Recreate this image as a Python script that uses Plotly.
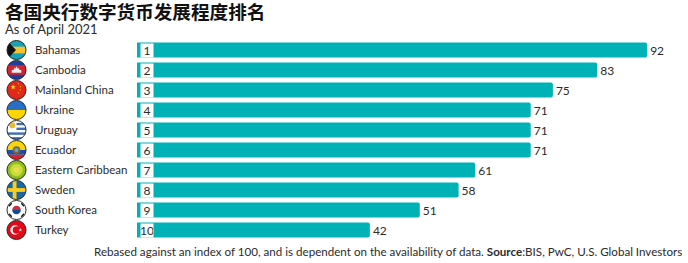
import base64
import plotly.graph_objects as go

countries = ["Bahamas", "Cambodia", "Mainland China", "Ukraine", "Uruguay", "Ecuador",
             "Eastern Caribbean", "Sweden", "South Korea", "Turkey"]
scores = [92, 83, 75, 71, 71, 71, 61, 58, 51, 42]
ranks = ["1", "2", "3", "4", "5", "6", "7", "8", "9", "10"]
title_text = "各国央行数字货币发展程度排名"
subtitle_text = "As of April 2021"
footer_text = ("Rebased against an index of 100, and is dependent on the availability of data. "
               "<b>Source</b>:BIS, PwC, U.S. Global Investors")

W, H = 688, 263
L, R, T, B = 137, 0, 40, 23
PW = W - L - R
PH = H - T - B
PX_PER_UNIT = 5.545
FONT = "Lato"
INK = "#2b2b2b"


def px(x):
    return (x - L) / PW


def py(y):
    return 1 - (y - T) / PH


star5 = "M0,-1 L.24,-.31 .95,-.31 .38,.12 .59,.81 0,.4 -.59,.81 -.38,.12 -.95,-.31 -.24,-.31Z"
flag_art = {
    "Bahamas": '<rect width="40" height="40" fill="#f4c430"/><rect width="40" height="13" fill="#17a2b8"/>'
               '<rect y="27" width="40" height="13" fill="#17a2b8"/><path d="M0,0 L19,20 L0,40Z" fill="#111"/>',
    "Cambodia": '<rect width="40" height="40" fill="#1f3f9e"/><rect y="10" width="40" height="20" fill="#d8232f"/>'
                '<path d="M10,26 L10,20 L14,20 L15,15 L17,18 L20,12 L23,18 L25,15 L26,20 L30,20 L30,26Z" fill="#eee"/>',
    "Mainland China": f'<rect width="40" height="40" fill="#e0281c"/>'
                      f'<path transform="translate(13,14) scale(6)" d="{star5}" fill="#ffd91a"/>'
                      f'<path transform="translate(24,7) scale(2)" d="{star5}" fill="#ffd91a"/>'
                      f'<path transform="translate(28,13) scale(2)" d="{star5}" fill="#ffd91a"/>'
                      f'<path transform="translate(28,20) scale(2)" d="{star5}" fill="#ffd91a"/>'
                      f'<path transform="translate(24,26) scale(2)" d="{star5}" fill="#ffd91a"/>',
    "Ukraine": '<rect width="40" height="20" fill="#2a6fc4"/><rect y="20" width="40" height="20" fill="#ffd500"/>',
    "Uruguay": '<rect width="40" height="40" fill="#fff"/><rect y="5" width="40" height="5" fill="#3a6db5"/>'
               '<rect y="15" width="40" height="5" fill="#3a6db5"/><rect y="25" width="40" height="5" fill="#3a6db5"/>'
               '<rect y="35" width="40" height="5" fill="#3a6db5"/><rect width="20" height="20" fill="#fff"/>'
               '<circle cx="11" cy="10" r="6.5" fill="#e8b93a"/>',
    "Ecuador": '<rect width="40" height="20" fill="#f6d313"/><rect y="20" width="40" height="10" fill="#1f4ea8"/>'
               '<rect y="30" width="40" height="10" fill="#d8232f"/><circle cx="20" cy="20" r="8" fill="#7a6a35"/>'
               '<circle cx="20" cy="20" r="4" fill="#5fa8d8"/>',
    "Eastern Caribbean": '<rect width="40" height="40" fill="#8fbf1f"/><circle cx="20" cy="20" r="13" fill="#c9dc3c"/>'
                         '<circle cx="20" cy="20" r="6" fill="#e9e04a"/>',
    "Sweden": '<rect width="40" height="40" fill="#1b68a8"/><rect x="12" width="8" height="40" fill="#fccc1a"/>'
              '<rect y="16" width="40" height="8" fill="#fccc1a"/>',
    "South Korea": '<rect width="40" height="40" fill="#fff"/><path d="M11,20 A9,9 0 0 1 29,20Z" fill="#cd2e3a"/>'
                   '<path d="M11,20 A9,9 0 0 0 29,20Z" fill="#0f4c9c"/>'
                   '<g stroke="#111" stroke-width="3"><path d="M4,12 L10,6"/><path d="M30,6 L36,12"/>'
                   '<path d="M4,28 L10,34"/><path d="M30,34 L36,28"/></g>',
    "Turkey": f'<rect width="40" height="40" fill="#e30a17"/><circle cx="17" cy="20" r="10" fill="#fff"/>'
              f'<circle cx="20" cy="20" r="8" fill="#e30a17"/>'
              f'<path transform="translate(28,20) scale(4)" d="{star5}" fill="#fff"/>',
}


def flag_uri(name):
    svg = ('<svg xmlns="http://www.w3.org/2000/svg" viewBox="0 0 44 44" width="88" height="88">'
           '<defs><clipPath id="c"><circle cx="20" cy="20" r="20"/></clipPath></defs>'
           '<g transform="translate(2,2)"><g clip-path="url(#c)">' + flag_art[name] + '</g>'
           '<circle cx="20" cy="20" r="20" fill="none" stroke="#222" stroke-width="2"/></g></svg>')
    return "data:image/svg+xml;base64," + base64.b64encode(svg.encode()).decode()


fig = go.Figure(go.Bar(
    x=scores, y=countries, orientation="h",
    marker=dict(color="#00b1b5", line=dict(width=0)),
    text=scores, textposition="outside", cliponaxis=False,
    textfont=dict(family=FONT, size=12, color=INK),
    hovertemplate="%{y}: %{x}<extra></extra>",
))

annotations = []
images = []
for name, rank in zip(countries, ranks):
    annotations.append(dict(
        x=px(33), xref="paper", y=name, yref="y", text=name, showarrow=False,
        xanchor="left", yshift=1, font=dict(family=FONT, size=11.5, color=INK)))
    annotations.append(dict(
        x=9.5 / PX_PER_UNIT, xref="x", y=name, yref="y", text=rank, showarrow=False,
        xanchor="center", width=12, height=13, borderpad=0, bgcolor="#ffffff",
        font=dict(family=FONT, size=12, color=INK)))
    images.append(dict(
        source=flag_uri(name), xref="paper", yref="y", x=px(16.5), y=name,
        sizex=21 / PW, sizey=1.05, xanchor="center", yanchor="middle", layer="above"))

annotations.append(dict(
    x=px(3), xref="paper", y=py(29), yref="paper", text=subtitle_text, showarrow=False,
    xanchor="left", yanchor="middle", font=dict(family=FONT, size=13, color=INK)))
annotations.append(dict(
    x=px(684), xref="paper", y=py(251), yref="paper", text=footer_text, showarrow=False,
    xanchor="right", yanchor="middle", font=dict(family=FONT, size=11.6, color=INK)))

fig.update_layout(
    width=W, height=H, autosize=False,
    margin=dict(l=L, r=R, t=T, b=B),
    paper_bgcolor="white", plot_bgcolor="white",
    showlegend=False, bargap=0.25, barcornerradius=2,
    title=dict(text=f"<b>{title_text}</b>", x=5 / W, xanchor="left", xref="container",
               y=1 - 12 / H, yanchor="middle", yref="container",
               font=dict(family="Noto Sans CJK SC", size=18.6, color="#111111")),
    xaxis=dict(range=[0, PW / PX_PER_UNIT], visible=False, fixedrange=True),
    yaxis=dict(categoryorder="array", categoryarray=countries, autorange=False,
               range=[9.5, -0.5], showticklabels=False, showgrid=False, zeroline=False,
               ticks="", fixedrange=True),
    annotations=annotations, images=images,
)
fig.write_html("out.html", config=dict(displayModeBar=False),
               post_script="document.body.style.margin='0';")
